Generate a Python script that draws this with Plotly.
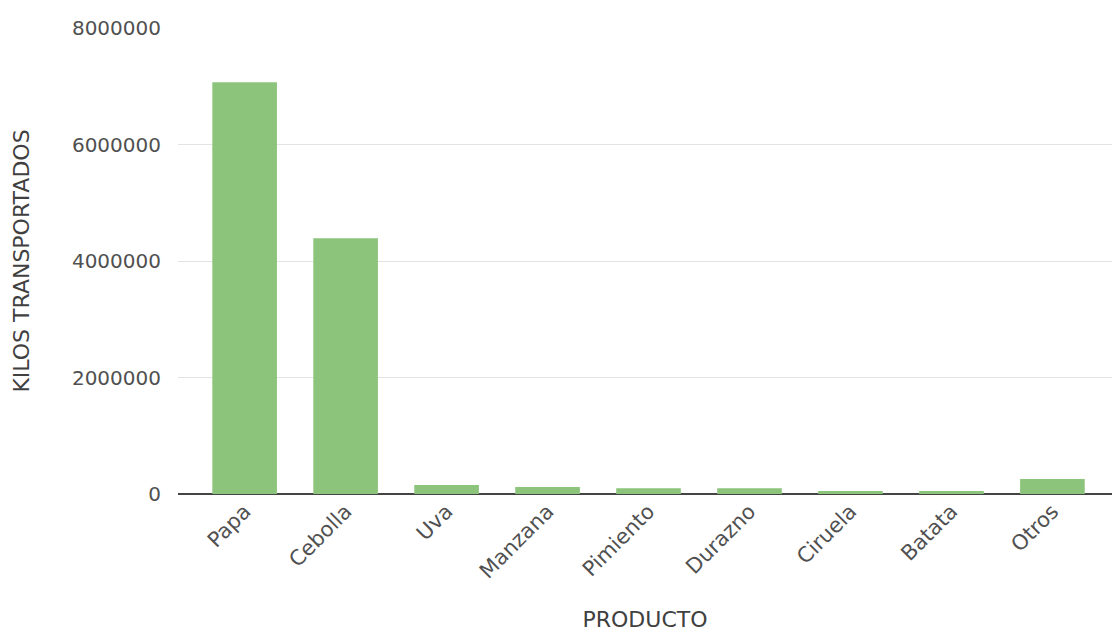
import plotly.graph_objects as go

productos = ["Papa", "Cebolla", "Uva", "Manzana", "Pimiento", "Durazno", "Ciruela", "Batata", "Otros"]
kilos = [7070000, 4390000, 155000, 120000, 100000, 100000, 50000, 50000, 257000]
y_ticks = [0, 2000000, 4000000, 6000000, 8000000]
y_tick_labels = ["0", "2000000", "4000000", "6000000", "8000000"]

FONT = "DejaVu Sans, Liberation Sans, Arial, sans-serif"

fig = go.Figure(go.Bar(
    x=productos, y=kilos,
    marker=dict(color="#8cc47c", line=dict(width=0)),
))

fig.update_layout(
    width=1112, height=632,
    margin=dict(l=178, r=0, t=28, b=138, autoexpand=False),
    paper_bgcolor="white", plot_bgcolor="white",
    bargap=0.36,
    font=dict(family=FONT, size=20, color="#505050"),
    showlegend=False,
)
fig.update_xaxes(
    range=[-0.66, 8.59],
    tickangle=-45,
    automargin=False,
    showgrid=False,
    showline=False,
    ticks="",
    tickfont=dict(size=21),
    title=dict(text="PRODUCTO", standoff=40, font=dict(size=22, color="#404040")),
)
fig.update_yaxes(
    range=[0, 8000000],
    automargin=False,
    tickvals=y_ticks, ticktext=y_tick_labels,
    showgrid=True, gridcolor="#e3e3e3", gridwidth=1,
    zeroline=True, zerolinecolor="#444444", zerolinewidth=2,
    ticks="", ticklabelstandoff=16,
    tickfont=dict(size=20),
    title=dict(text="KILOS TRANSPORTADOS", standoff=36, font=dict(size=22, color="#404040")),
)

fig.write_html(
    "out.html",
    config={"displayModeBar": False},
    post_script="document.body.style.margin='0';document.body.style.padding='0';",
)
